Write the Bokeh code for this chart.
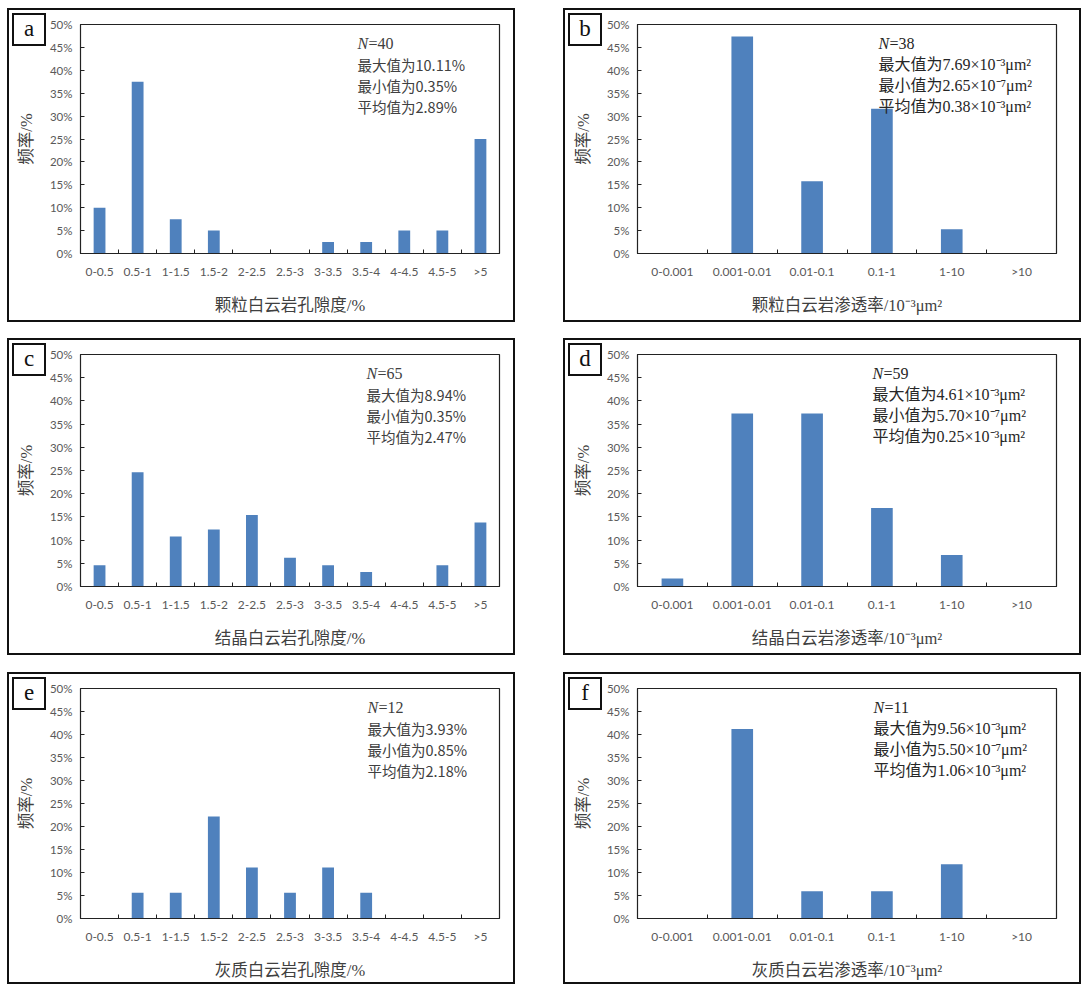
from bokeh.plotting import figure
from bokeh.layouts import column, row
from bokeh.models import (Range1d, FixedTicker, PrintfTickFormatter, Label,
                          Spacer, CustomJSTickFormatter, Div)
from bokeh.embed import file_html
from bokeh.resources import INLINE

# ---------------- data ----------------
por_cats = ["0-0.5", "0.5-1", "1-1.5", "1.5-2", "2-2.5", "2.5-3", "3-3.5",
            "3.5-4", "4-4.5", "4.5-5", ">5"]
perm_cats = ["0-0.001", "0.001-0.01", "0.01-0.1", "0.1-1", "1-10", ">10"]

a_vals = [10.0, 37.5, 7.5, 5.0, 0, 0, 2.5, 2.5, 5.0, 5.0, 25.0]
b_vals = [0, 47.4, 15.8, 31.6, 5.3, 0]
c_vals = [4.6, 24.6, 10.8, 12.3, 15.4, 6.2, 4.6, 3.1, 0, 4.6, 13.8]
d_vals = [1.7, 37.3, 37.3, 16.9, 6.8, 0]
e_vals = [0, 5.6, 5.6, 22.2, 11.1, 5.6, 11.1, 5.6, 0, 0, 0]
f_vals = [0, 41.2, 5.9, 5.9, 11.8, 0]

y_ticks = [0, 5, 10, 15, 20, 25, 30, 35, 40, 45, 50]

a_title = "颗粒白云岩孔隙度/%"
b_title = "颗粒白云岩渗透率/10⁻³μm²"
c_title = "结晶白云岩孔隙度/%"
d_title = "结晶白云岩渗透率/10⁻³μm²"
e_title = "灰质白云岩孔隙度/%"
f_title = "灰质白云岩渗透率/10⁻³μm²"

a_n, b_n, c_n, d_n, e_n, f_n = "=40", "=38", "=65", "=59", "=12", "=11"
a_stats = ["最大值为10.11%", "最小值为0.35%", "平均值为2.89%"]
b_stats = ["最大值为7.69×10⁻³μm²", "最小值为2.65×10⁻⁷μm²", "平均值为0.38×10⁻³μm²"]
c_stats = ["最大值为8.94%", "最小值为0.35%", "平均值为2.47%"]
d_stats = ["最大值为4.61×10⁻³μm²", "最小值为5.70×10⁻⁷μm²", "平均值为0.25×10⁻³μm²"]
e_stats = ["最大值为3.93%", "最小值为0.85%", "平均值为2.18%"]
f_stats = ["最大值为9.56×10⁻³μm²", "最小值为5.50×10⁻⁷μm²", "平均值为1.06×10⁻³μm²"]

# ---------------- style ----------------
SERIF = "'Liberation Serif', 'Noto Sans CJK SC', serif"
SANS_CJK = "'Noto Sans CJK SC', sans-serif"
TICK_FONT = "Lato, 'Liberation Sans', sans-serif"
BAR = "#4F81BD"
BW = 2          # panel border width (css)
FRAME_W = 419
TOP = 16


def make_panel(letter, cats, vals, xtitle, n_text, stats, W, H, fh, left,
               text_x_px, stats_font, stats_size, stats_color):
    n = len(cats)
    centers = [i + 0.5 for i in range(n)]
    bounds = list(range(1, n))
    fw_ = W - 2 * BW
    fh_ = H - 2 * BW
    lb = left - BW
    tb = TOP - BW
    p = figure(width=fw_, height=fh_, output_backend="svg", toolbar_location=None,
               x_range=Range1d(0, n), y_range=Range1d(0, 50),
               min_border_left=lb, min_border_right=fw_ - lb - FRAME_W,
               min_border_top=tb, min_border_bottom=fh_ - tb - fh)
    p.xgrid.visible = False
    p.ygrid.visible = False
    p.outline_line_color = "#222222"
    p.outline_line_width = 1.2
    p.background_fill_color = "white"
    p.border_fill_color = "white"

    p.vbar(x=centers, top=vals, width=0.31, fill_color=BAR, line_color=None)

    # x axis
    xa = p.xaxis[0]
    xa.ticker = FixedTicker(ticks=centers, minor_ticks=bounds)
    xa.formatter = CustomJSTickFormatter(args=dict(labels=cats),
                                         code="const i = Math.floor(tick); return labels[i] || '';")
    xa.major_tick_line_color = None
    xa.minor_tick_in = 4
    xa.minor_tick_out = 0
    xa.minor_tick_line_color = "#222222"
    xa.axis_line_color = "#222222"
    xa.major_label_standoff = 4
    xa.major_label_text_font = TICK_FONT
    xa.major_label_text_font_size = "12px"
    xa.major_label_text_color = "#595959"
    xa.axis_label = xtitle
    xa.axis_label_standoff = 14
    xa.axis_label_text_font = SERIF
    xa.axis_label_text_font_size = "16.5px"
    xa.axis_label_text_font_style = "normal"
    xa.axis_label_text_color = "#404040"

    # y axis
    ya = p.yaxis[0]
    ya.ticker = FixedTicker(ticks=y_ticks)
    ya.formatter = PrintfTickFormatter(format="%d%%")
    ya.major_tick_in = 4
    ya.major_tick_out = 0
    ya.minor_tick_line_color = None
    ya.major_tick_line_color = "#222222"
    ya.axis_line_color = "#222222"
    ya.major_label_standoff = 8
    ya.major_label_text_font = TICK_FONT
    ya.major_label_text_font_size = "11.5px"
    ya.major_label_text_color = "#595959"
    ya.axis_label = "频率/%"
    ya.axis_label_standoff = 11
    ya.axis_label_text_font = SERIF
    ya.axis_label_text_font_size = "16.5px"
    ya.axis_label_text_font_style = "normal"
    ya.axis_label_text_color = "#404040"

    # statistics text
    x0 = text_x_px / FRAME_W * n
    p.add_layout(Label(x=x0, y=50, y_offset=-19, text="N",
                       text_font=SERIF, text_font_style="italic",
                       text_font_size="16px", text_color=stats_color,
                       text_baseline="middle"))
    p.add_layout(Label(x=x0, y=50, x_offset=11, y_offset=-19, text=n_text,
                       text_font=SERIF, text_font_size="16px",
                       text_color=stats_color, text_baseline="middle"))
    for i, line in enumerate(stats):
        p.add_layout(Label(x=x0, y=50, y_offset=-(19 + 21 * (i + 1)), text=line,
                           text_font=stats_font, text_font_size=stats_size,
                           text_color=stats_color, text_baseline="middle"))

    # letter box in the panel's top-left corner
    tag = Div(text=letter, width=34, height=33,
              styles={"position": "absolute", "left": "-%dpx" % BW, "top": "-%dpx" % BW,
                      "z-index": "10", "box-sizing": "border-box",
                      "border": "%dpx solid #111111" % BW, "background": "white",
                      "font-family": SERIF, "font-size": "23px", "color": "#111111",
                      "text-align": "center", "line-height": "27px"})

    return column(tag, p, styles={"border": "%dpx solid #111111" % BW,
                                  "position": "relative"})


LW, RW = 508, 518
pa = make_panel("a", por_cats, a_vals, a_title, a_n, a_stats, LW, 314, 229, 73, 277, SANS_CJK, "14.5px", "#404040")
pb = make_panel("b", perm_cats, b_vals, b_title, b_n, b_stats, RW, 314, 229, 74, 241, SERIF, "16px", "#262626")
pc = make_panel("c", por_cats, c_vals, c_title, c_n, c_stats, LW, 317, 232, 73, 286, SANS_CJK, "14.5px", "#404040")
pd_ = make_panel("d", perm_cats, d_vals, d_title, d_n, d_stats, RW, 317, 232, 74, 235, SERIF, "16px", "#262626")
pe = make_panel("e", por_cats, e_vals, e_title, e_n, e_stats, LW, 312, 230, 73, 287, SANS_CJK, "14.5px", "#404040")
pf = make_panel("f", perm_cats, f_vals, f_title, f_n, f_stats, RW, 312, 230, 74, 236, SERIF, "16px", "#262626")

layout = column(
    Spacer(height=8),
    row(Spacer(width=7), pa, Spacer(width=48), pb),
    Spacer(height=16),
    row(Spacer(width=7), pc, Spacer(width=48), pd_),
    Spacer(height=17),
    row(Spacer(width=7), pe, Spacer(width=48), pf),
)

open("out.html", "w").write(file_html(layout, INLINE))
